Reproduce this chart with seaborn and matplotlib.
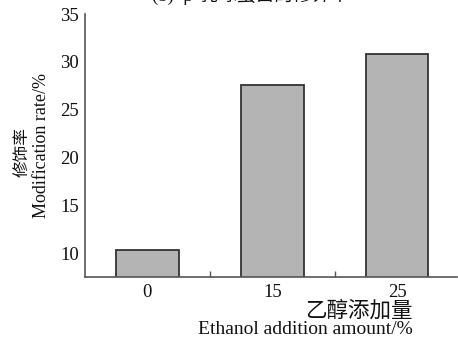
import matplotlib
matplotlib.use("Agg")
import matplotlib.pyplot as plt
from matplotlib.ticker import FixedLocator
import seaborn as sns
import pandas as pd

# Ethanol addition amount (%) and the resulting modification rate (%)
ethanol_levels = ["0", "15", "25"]
modification_rate = [10.3, 27.6, 30.8]
y_ticks = [10, 15, 20, 25, 30, 35]

df = pd.DataFrame({"ethanol": ethanol_levels, "rate": modification_rate})

sns.set_theme(style="white")
serif_cjk = ["Liberation Serif", "Noto Sans CJK SC"]
plt.rcParams["font.family"] = serif_cjk

fig = plt.figure(figsize=(4.58, 3.44), dpi=100)
ax = fig.add_axes([0.1856, 0.1948, 0.8124, 0.7645])

sns.barplot(data=df, x="ethanol", y="rate", ax=ax, width=0.5,
            color="#b4b4b4", saturation=1, edgecolor="#333333", linewidth=1.3)

ax.set_xlim(-0.5, 2.48)
ax.set_ylim(7.5, 35)

axis_grey = "#555555"
for side in ("top", "right"):
    ax.spines[side].set_visible(False)
for side in ("left", "bottom"):
    ax.spines[side].set_color(axis_grey)
    ax.spines[side].set_linewidth(1.2)

# y axis: outward ticks, with the top one turned inward
ax.set_yticks(y_ticks)
ax.set_yticklabels([str(v) for v in y_ticks])
ax.tick_params(axis="y", which="major", direction="out", length=3.2, width=1,
               color=axis_grey, pad=1, labelsize=13.5, labelcolor="#111111")
ax.yaxis.get_major_ticks()[-1].tick1line.set_visible(False)
ax.yaxis.set_minor_locator(FixedLocator([35]))
ax.tick_params(axis="y", which="minor", direction="in", length=4, width=1,
               color=axis_grey, left=True)

# x axis: labels without ticks, small inward ticks between the bars
ax.tick_params(axis="x", which="major", length=0, pad=5, labelsize=13.5,
               labelcolor="#111111")
ax.xaxis.set_minor_locator(FixedLocator([0.5, 1.5]))
ax.tick_params(axis="x", which="minor", direction="in", length=4, width=1,
               color=axis_grey, bottom=True)

ax.set_xlabel("")
ax.set_ylabel("")

# axis titles (Chinese over English)
fig.text(0.902, 1 - 311 / 344, "乙醇添加量", ha="right", va="center",
         fontsize=15.5, family=["Noto Sans CJK SC"], color="#111111")
fig.text(0.902, 1 - 329 / 344, "Ethanol addition amount/%", ha="right",
         va="center", fontsize=14, family=serif_cjk, color="#111111")
fig.text(22 / 458, 1 - 152 / 344, "修饰率", rotation=90, ha="center",
         va="center", fontsize=12, family=["Noto Sans CJK SC"], color="#111111")
fig.text(42 / 458, 1 - 146 / 344, "Modification rate/%", rotation=90,
         ha="center", va="center", fontsize=13, family=serif_cjk,
         color="#111111")

# panel title at the top edge
fig.text(0.548, 1 - 1 / 344, "(b)  β-乳球蛋白的修饰率", ha="center",
         va="baseline", fontsize=13.5, family=serif_cjk, color="#111111")

fig.savefig("out.png", dpi=100)
